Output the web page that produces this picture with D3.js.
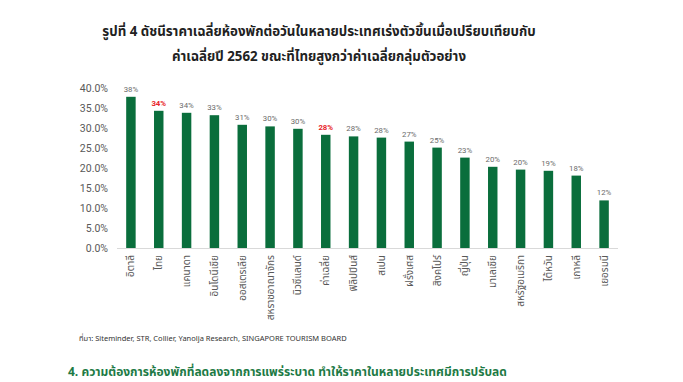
<!DOCTYPE html>
<html>
<head>
<meta charset="utf-8">
<script src="https://cdn.jsdelivr.net/npm/d3@7"></script>
<style>
  html, body { margin: 0; padding: 0; background: #fff; }
  svg { display: block; font-family: "Noto Sans Thai", "Noto Sans", "DejaVu Sans", sans-serif; }
</style>
</head>
<body>
<svg id="chart" width="683" height="382"></svg>
<script>
"use strict";
// Room-rate index change by country vs 2019 (B.E. 2562) average
const countries = ["อิตาลี", "ไทย", "แคนาดา", "อินโดนีเซีย", "ออสเตรเลีย", "สหราชอาณาจักร", "นิวซีแลนด์", "ค่าเฉลี่ย",
  "ฟิลิปปินส์", "สเปน", "ฝรั่งเศส", "สิงคโปร์", "ญี่ปุ่น", "มาเลเซีย", "สหรัฐอเมริกา", "ไต้หวัน", "เกาหลี", "เยอรมนี"];
const values = [37.8, 34.3, 33.8, 33.2, 30.8, 30.4, 29.8, 28.3, 27.9, 27.6, 26.6, 25.1, 22.6, 20.3, 19.6, 19.3, 18.1, 11.9];
const highlighted = ["ไทย", "ค่าเฉลี่ย"];
const yTicks = [0, 5, 10, 15, 20, 25, 30, 35, 40];
const titleLines = ["รูปที่ 4 ดัชนีราคาเฉลี่ยห้องพักต่อวันในหลายประเทศเร่งตัวขึ้นเมื่อเปรียบเทียบกับ",
  "ค่าเฉลี่ยปี 2562 ขณะที่ไทยสูงกว่าค่าเฉลี่ยกลุ่มตัวอย่าง"];
const sourceText = "ที่มา: Siteminder, STR, Collier, Yanolja Research, SINGAPORE TOURISM BOARD";
const nextHeading = "4.   ความต้องการห้องพักที่ลดลงจากการแพร่ระบาด ทำให้ราคาในหลายประเทศมีการปรับลด";

const svg = d3.select("#chart");
const green = "#0a6e3c", red = "#e8242a", grey = "#595959";

// title
svg.append("g").selectAll("text").data(titleLines).enter().append("text")
  .attr("x", 319).attr("y", (d, i) => 36 + i * 25).attr("text-anchor", "middle")
  .attr("font-size", 13.3).attr("font-weight", "bold").attr("fill", "#222")
  .text((d) => d);

const x = d3.scaleBand().domain(countries).range([117, 618]).paddingInner(0.66).paddingOuter(0.33);
const y = d3.scaleLinear().domain([0, 40]).range([248, 88]);

// y axis (labels only)
const yAxis = svg.append("g").attr("transform", "translate(108,0)")
  .call(d3.axisLeft(y).tickValues(yTicks).tickSize(0).tickPadding(0).tickFormat((d) => d.toFixed(1) + "%"));
yAxis.select(".domain").remove();
yAxis.selectAll("text").attr("font-size", 10.5).attr("fill", grey).attr("font-family", "Roboto, sans-serif").attr("dy", "0.35em");

// bars
svg.append("g").selectAll("rect").data(values).enter().append("rect")
  .attr("x", (d, i) => x(countries[i])).attr("width", x.bandwidth())
  .attr("y", (d) => y(d)).attr("height", (d) => y(0) - y(d))
  .attr("fill", green);

// x baseline
svg.append("line").attr("x1", 117).attr("x2", 618).attr("y1", y(0) + 0.5).attr("y2", y(0) + 0.5)
  .attr("stroke", "#d9d9d9").attr("stroke-width", 1);

// value labels
svg.append("g").selectAll("text").data(values).enter().append("text")
  .attr("x", (d, i) => x(countries[i]) + x.bandwidth() / 2).attr("y", (d) => y(d) - 5)
  .attr("text-anchor", "middle").attr("font-size", 7.8).attr("font-family", "Roboto, sans-serif")
  .attr("font-weight", (d, i) => (highlighted.includes(countries[i]) ? "bold" : "normal"))
  .attr("fill", (d, i) => (highlighted.includes(countries[i]) ? red : "#6b6b6b"))
  .text((d) => Math.round(d) + "%");

// category labels, rotated
svg.append("g").selectAll("text").data(countries).enter().append("text")
  .attr("transform", (d) => "translate(" + (x(d) + x.bandwidth() / 2 + 3.5) + ",255) rotate(-90)")
  .attr("text-anchor", "end").attr("font-size", 10).attr("fill", grey)
  .text((d) => d);

// source
svg.append("text").attr("x", 79).attr("y", 341).attr("font-size", 7.5).attr("fill", "#333")
  .text(sourceText);

// heading of next section, at the foot of the page
svg.append("text").attr("x", 68).attr("y", 376).attr("font-size", 12).attr("font-weight", "bold")
  .attr("fill", "#1d7a45").text(nextHeading);
</script>
</body>
</html>
